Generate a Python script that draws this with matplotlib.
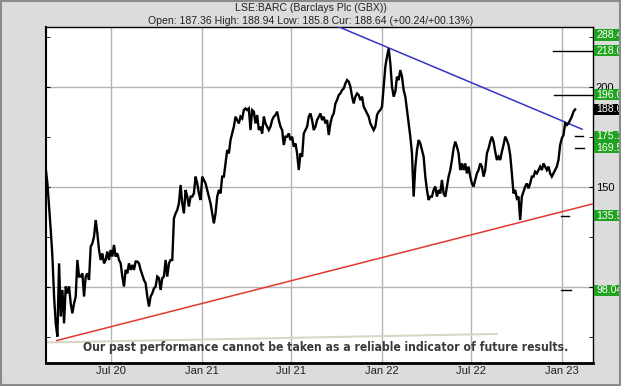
import matplotlib
matplotlib.use("Agg")
import matplotlib.pyplot as plt
import matplotlib.transforms as mtransforms
from matplotlib import font_manager
from matplotlib.patches import Rectangle
import numpy as np
import pandas as pd

# ---------------- data ----------------
title = "LSE:BARC (Barclays Plc (GBX))"
subtitle = "Open: 187.36 High: 188.94 Low: 185.8 Cur: 188.64 (+00.24/+00.13%)"
disclaimer = "Our past performance cannot be taken as a reliable indicator of future results."

price_start = "2020-02-19 12:00"
price_step_hours = 81
price = [
    159.1, 151.6, 140.0, 128.3, 115.0, 95.0, 81.6, 75.0, 111.6, 85.0,
    98.3, 81.6, 100.0, 96.6, 100.0, 91.6, 86.6, 91.6, 95.0, 113.3,
    105.0, 105.0, 106.6, 95.0, 105.0, 106.6, 103.3, 120.0, 121.6, 125.0,
    133.3, 126.6, 118.3, 113.3, 116.6, 111.6, 113.3, 117.5, 113.3, 118.3,
    115.0, 120.8, 115.0, 116.6, 113.3, 111.6, 105.0, 100.0, 108.3, 106.6,
    111.6, 108.3, 110.8, 108.3, 112.5, 112.5, 111.6, 108.3, 105.8, 103.3,
    101.6, 95.0, 90.0, 95.0, 96.6, 99.1, 100.0,
    105.0, 104.2, 98.3, 104.2, 105.0, 113.3, 105.0, 111.6, 113.3, 113.3,
    134.1, 136.6, 138.3, 141.6, 150.8, 141.6, 136.6, 148.3, 145.0, 140.0,
    145.0, 145.0, 146.6, 155.0, 151.6, 146.6, 143.3, 155.0, 153.3, 151.6,
    148.3, 145.0, 141.6, 136.6, 131.6, 136.6, 145.0, 148.3, 146.6, 155.0,
    155.0, 161.6, 168.3, 166.6, 173.3, 176.6, 180.0, 185.0, 183.3, 181.6,
    185.0, 184.1, 188.3, 189.1, 188.3, 189.1, 178.3, 188.3, 187.5, 181.6,
    185.8, 178.3, 180.0, 176.6, 185.0, 181.6,
    180.0, 178.3, 180.0, 183.3, 185.0, 185.8, 187.5, 183.3, 180.0, 178.3,
    170.8, 175.0, 175.0, 176.6, 173.3, 175.0, 170.0, 171.6, 166.6, 158.3,
    166.6, 165.0, 176.6, 178.3, 180.0, 185.0, 186.6, 183.3, 178.3, 180.0,
    183.3, 185.0, 186.6, 183.3, 185.0, 181.6, 183.3, 175.8, 181.6, 185.0,
    186.6, 191.6, 193.3, 195.8, 196.6, 198.3, 199.1, 201.6, 203.3, 202.5,
    200.0, 195.0, 191.6, 195.0, 196.6, 195.8, 193.3, 195.0, 190.0, 188.3,
    186.6, 185.0, 181.6, 180.0, 178.3, 180.0,
    185.8, 187.5, 188.3, 190.0, 200.0, 210.0, 215.0, 219.1, 211.6, 200.0,
    195.0, 197.5, 205.0, 203.3, 208.3, 205.0, 198.3, 195.0, 188.3, 181.6,
    175.0, 166.6, 145.0, 160.0, 168.3, 173.3, 171.6, 168.3, 165.0, 155.0,
    148.3, 143.3, 145.0, 145.0, 148.3, 150.0, 145.0, 148.3, 146.6, 153.3,
    146.6, 145.0, 150.0, 155.0, 158.3, 163.3, 169.1, 172.5, 170.0, 166.6,
    158.3, 161.6, 158.3, 161.6, 156.6, 160.0, 155.0, 151.6, 150.0, 153.3,
    156.6, 158.3, 161.6, 160.0, 155.0, 158.3,
    166.6, 169.1, 172.5, 175.0, 172.5, 167.5, 163.3, 165.0, 163.3, 167.5,
    170.8, 175.0, 173.3, 170.8, 165.8, 156.6, 146.6, 148.3, 144.1, 145.0,
    133.3, 145.0, 147.5, 150.0, 151.6, 149.1, 151.6, 155.0, 155.0, 157.5,
    156.6, 158.3, 160.0, 158.3, 161.6, 160.0, 158.3, 160.0, 156.6, 155.0,
    156.6, 158.3, 160.0, 163.3, 170.8, 174.1, 175.8, 181.6, 180.8, 181.6,
    183.3, 185.0, 187.5, 188.6,
]

tick_dates = ["2020-07-01", "2021-01-01", "2021-07-01", "2022-01-01", "2022-07-01", "2023-01-01"]
tick_labels = ["Jul 20", "Jan 21", "Jul 21", "Jan 22", "Jul 22", "Jan 23"]
x_range = ["2020-02-19", "2023-03-05"]
y_range = [62.0, 229.7]
y_major = [100, 150, 200]
y_major_labels = ["", "150", "200"]
y_minor = [75, 125, 175, 225]

blue_dates = ["2021-09-01", "2023-02-11"]
blue_vals = [233.5, 178.7]
red_dates = ["2020-03-13", "2023-03-05"]
red_vals = [73.0, 141.4]
beige_dates = ["2020-02-19", "2022-08-22"]
beige_vals = [72.0, 76.3]

target_vals = [218.0, 196.0, 175.1, 169.5, 135.5, 98.04]
target_starts = ["2022-12-13", "2022-12-15", "2023-01-27", "2023-01-27", "2022-12-30", "2022-12-30"]
target_ends = ["2023-03-05", "2023-03-05", "2023-02-13", "2023-02-15", "2023-01-15", "2023-01-20"]

label_vals = [288.4, 218.0, 196.0, 188.64, 175.1, 169.5, 135.5, 98.04]
label_texts = ["288.4", "218.0", "196.0", "188.6", "175.1", "169.5", "135.5", "98.04"]
label_bg = ["#1fa31f", "#1fa31f", "#1fa31f", "#000000", "#1fa31f", "#1fa31f", "#1fa31f", "#1fa31f"]

# ---------------- fonts ----------------
def has_font(name):
    try:
        font_manager.findfont(font_manager.FontProperties(family=name), fallback_to_default=False)
        return True
    except Exception:
        return False

base_font = "Liberation Sans" if has_font("Liberation Sans") else "DejaVu Sans"
plt.rcParams["font.family"] = [base_font, "DejaVu Sans"]

def condensed_bold():
    best = None
    for f in font_manager.fontManager.ttflist:
        nm = f.name.lower()
        fn = f.fname.lower()
        narrow = ("narrow" in nm or "condensed" in nm or "narrow" in fn or "condensed" in fn
                  or str(f.stretch) in ("condensed", "semi-condensed", "extra-condensed"))
        if not narrow or "oblique" in fn or "italic" in fn:
            continue
        w = f.weight if isinstance(f.weight, int) else {"bold": 700, "normal": 400}.get(str(f.weight), 400)
        score = -abs(w - 700)
        if "liberation" in nm:
            score += 50
        if best is None or score > best[0]:
            best = (score, f.fname)
    if best is None:
        return font_manager.FontProperties(family=base_font, weight="bold")
    return font_manager.FontProperties(fname=best[1])

# ---------------- figure ----------------
W, H = 621, 386
fig = plt.figure(figsize=(W / 100, H / 100), dpi=100, facecolor="#dcdcdc")
ax_left, ax_right, ax_top, ax_bottom = 45.5, 593.0, 27.3, 362.5
ax = fig.add_axes([ax_left / W, 1 - ax_bottom / H, (ax_right - ax_left) / W, (ax_bottom - ax_top) / H])
ax.set_facecolor("white")

dates = pd.date_range(pd.Timestamp(price_start), periods=len(price), freq=pd.Timedelta(hours=price_step_hours))

ax.plot(pd.to_datetime(beige_dates), beige_vals, color="#d9d6c6", lw=1.5, zorder=2)
ax.plot(pd.to_datetime(red_dates), red_vals, color="#e03a2f", lw=1.1, zorder=3)
ax.plot(pd.to_datetime(blue_dates), blue_vals, color="#3434c8", lw=1.1, zorder=3)
ax.plot(dates, price, color="black", lw=1.7, zorder=4, solid_joinstyle="miter")

for v, s, e in zip(target_vals, target_starts, target_ends):
    ax.plot(pd.to_datetime([s, e]), [v, v], color="black", lw=1.0, zorder=4)

ax.set_xlim(pd.Timestamp(x_range[0]), pd.Timestamp(x_range[1]))
ax.set_ylim(*y_range)

ax.set_xticks(pd.to_datetime(tick_dates))
ax.set_xticklabels(tick_labels)
ax.set_yticks(y_major)
ax.set_yticks(y_minor, minor=True)
ax.set_yticklabels(y_major_labels)

ax.grid(True, which="major", color="#b4b4b4", lw=1.0, zorder=1)
ax.set_axisbelow(True)
ax.tick_params(axis="x", which="both", length=0, labelsize=8, pad=2.5, colors="#222222")
ax.tick_params(axis="y", which="both", direction="in", length=3, left=True, right=True,
               labelleft=False, labelright=True, labelsize=8, pad=2, colors="black")

for side, lw in [("bottom", 2.0), ("left", 1.5), ("top", 1.0), ("right", 1.0)]:
    ax.spines[side].set_linewidth(lw)
    ax.spines[side].set_color("black")

# right-side value labels
trans = mtransforms.blended_transform_factory(ax.transAxes, ax.transData)
for v, t, c in zip(label_vals, label_texts, label_bg):
    yv = min(v, y_range[1] - 3.8)
    ax.add_patch(Rectangle((1.0015, yv - 2.85), 0.06, 5.7, transform=trans, clip_on=False,
                           facecolor=c, edgecolor="none", zorder=9))
    ax.text(1.0055, yv, t, transform=trans, ha="left", va="center", fontsize=7.6,
            color="white", clip_on=False, zorder=10)

# disclaimer (fit to the reference width)
dfp = condensed_bold()
dtxt = ax.text(0.5123, 0.0433, disclaimer, transform=ax.transAxes, ha="center", va="center",
               fontproperties=dfp, fontsize=10, color="#3a3a3a", zorder=6)
renderer = fig.canvas.get_renderer()
wpx = dtxt.get_window_extent(renderer).width
dtxt.set_fontsize(min(11.0, 10 * 482.0 / wpx))

# titles
fig.text(0.5, 1 - 7.6 / H, title, ha="center", va="center", fontsize=7.6, color="#222222")
fig.text(0.5, 1 - 20.7 / H, subtitle, ha="center", va="center", fontsize=7.6, color="#222222")

# frame border
fig.patches.append(Rectangle((0.001, 0.002), 0.997, 0.996, transform=fig.transFigure,
                             fill=False, edgecolor="#8a8a8a", lw=1.5))

fig.savefig("out.png", dpi=100, facecolor=fig.get_facecolor())
